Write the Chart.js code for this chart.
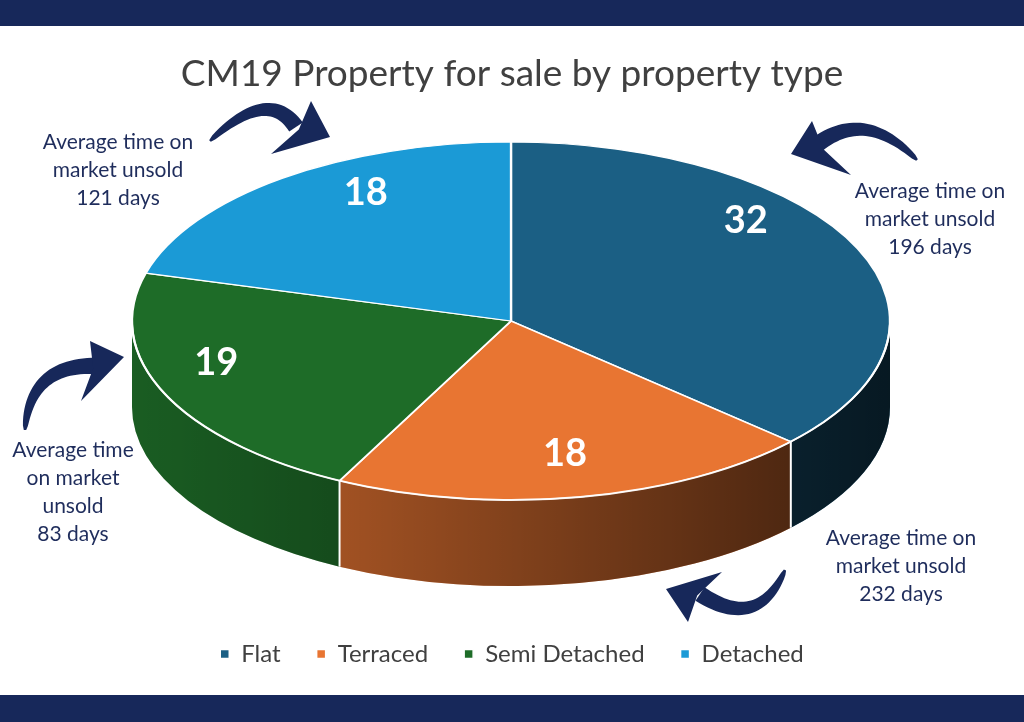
<!DOCTYPE html>
<html>
<head>
<meta charset="utf-8">
<script src="https://cdn.jsdelivr.net/npm/chart.js@4/dist/chart.umd.min.js"></script>
<style>
  html, body { margin: 0; padding: 0; background: #fff; }
  canvas { display: block; }
</style>
</head>
<body>
<canvas id="pieChart" width="1024" height="722"></canvas>
<script>
// data
const propertyTypes = ['Flat', 'Terraced', 'Semi Detached', 'Detached'];
const listings = [32, 18, 19, 18];
const avgDaysUnsold = [196, 232, 83, 121];

const sliceColors = ['#1b5f84', '#e87532', '#1e6c28', '#1b9ad6'];
const navy = '#17285a';
const FONT = 'Lato, "Open Sans", sans-serif';

// where the tilted pie sits on the page
const PIE = { cx: 511, cy: 321, rx: 379, ry: 179, depth: 86 };
// small nudges so the value labels sit like the perspective original
const labelNudge = [[-15, -48], [5, 6], [-45, -10], [20, -26]];

// callout boxes: which category, centre x, first line y, how the text wraps
const callouts = [
    { idx: 3, x: 118, y: 142, lines: d => ['Average time on', 'market unsold', d + ' days'] },
    { idx: 0, x: 930, y: 191, lines: d => ['Average time on', 'market unsold', d + ' days'] },
    { idx: 2, x: 73, y: 450, lines: d => ['Average time', 'on market', 'unsold', d + ' days'] },
    { idx: 1, x: 901, y: 538, lines: d => ['Average time on', 'market unsold', d + ' days'] }
];

// curved arrows: tail, control, shaft end, head tip, two barbs
const arrows = [
    { t: [210, 141], c: [268, 86], e: [296, 127], tip: [330, 137], b1: [311, 101], b2: [271, 154] },
    { t: [917, 160], c: [866, 108], e: [818, 144], tip: [791, 154], b1: [812, 121], b2: [851, 175] },
    { t: [25, 430], c: [30, 364], e: [96, 366], tip: [124, 357], b1: [90, 341], b2: [81, 401] },
    { t: [785, 570], c: [758, 632], e: [700, 594], tip: [666, 589], b1: [722, 572], b2: [688, 622] }
];

function drawArrow(ctx, a) {
    // tapered shaft along a quadratic curve
    const n = 30, left = [], right = [];
    for (let i = 0; i <= n; i++) {
        const s = i / n;
        const x = (1 - s) * (1 - s) * a.t[0] + 2 * (1 - s) * s * a.c[0] + s * s * a.e[0];
        const y = (1 - s) * (1 - s) * a.t[1] + 2 * (1 - s) * s * a.c[1] + s * s * a.e[1];
        const dx = 2 * (1 - s) * (a.c[0] - a.t[0]) + 2 * s * (a.e[0] - a.c[0]);
        const dy = 2 * (1 - s) * (a.c[1] - a.t[1]) + 2 * s * (a.e[1] - a.c[1]);
        const len = Math.hypot(dx, dy) || 1;
        const w = 1.2 + 7 * Math.pow(s, 0.5);
        left.push([x - dy / len * w, y + dx / len * w]);
        right.push([x + dy / len * w, y - dx / len * w]);
    }
    ctx.beginPath();
    ctx.moveTo(left[0][0], left[0][1]);
    left.forEach(p => ctx.lineTo(p[0], p[1]));
    right.reverse().forEach(p => ctx.lineTo(p[0], p[1]));
    ctx.closePath();
    ctx.fill();
    // head with a small notch
    const mx = (a.b1[0] + a.b2[0]) / 2, my = (a.b1[1] + a.b2[1]) / 2;
    const nx = mx + (a.tip[0] - mx) * 0.2, ny = my + (a.tip[1] - my) * 0.2;
    ctx.beginPath();
    ctx.moveTo(a.tip[0], a.tip[1]);
    ctx.lineTo(a.b1[0], a.b1[1]);
    ctx.lineTo(nx, ny);
    ctx.lineTo(a.b2[0], a.b2[1]);
    ctx.closePath();
    ctx.fill();
}

// squash the flat pie into the tilted ellipse
function toScreen(arc, x, y) {
    const k = arc.outerRadius;
    return [PIE.cx + (x - arc.x) * PIE.rx / k, PIE.cy + (y - arc.y) * PIE.ry / k];
}

const pie3d = {
    id: 'pie3d',
    beforeDraw(chart) {
        const ctx = chart.ctx;
        ctx.save();
        ctx.fillStyle = '#fff';
        ctx.fillRect(0, 0, chart.width, chart.height);
        ctx.fillStyle = navy;
        ctx.fillRect(0, 0, chart.width, 26);
        ctx.fillRect(0, 695, chart.width, chart.height - 695);
        ctx.restore();
    },
    beforeDatasetsDraw(chart) {
        const ctx = chart.ctx;
        const arcs = chart.getDatasetMeta(0).data;
        const shade = ctx.createLinearGradient(PIE.cx - PIE.rx, 0, PIE.cx + PIE.rx, 0);
        shade.addColorStop(0, 'rgba(0,0,0,0.14)');
        shade.addColorStop(1, 'rgba(0,0,0,0.74)');
        ctx.save();
        arcs.forEach((arc, i) => {
            const a = Math.max(arc.startAngle, 0);
            const b = Math.min(arc.endAngle, Math.PI);
            if (b <= a) return;
            ctx.beginPath();
            ctx.ellipse(PIE.cx, PIE.cy, PIE.rx, PIE.ry, 0, a, b, false);
            ctx.ellipse(PIE.cx, PIE.cy + PIE.depth, PIE.rx, PIE.ry, 0, b, a, true);
            ctx.closePath();
            ctx.fillStyle = sliceColors[i];
            ctx.fill();
            ctx.fillStyle = shade;
            ctx.fill();
        });
        // white seams on the side wall
        ctx.strokeStyle = '#fff';
        ctx.lineWidth = 2;
        arcs.forEach(arc => {
            const t = arc.startAngle;
            if (t > 0 && t < Math.PI) {
                const x = PIE.cx + PIE.rx * Math.cos(t), y = PIE.cy + PIE.ry * Math.sin(t);
                ctx.beginPath();
                ctx.moveTo(x, y);
                ctx.lineTo(x, y + PIE.depth);
                ctx.stroke();
            }
        });
        ctx.restore();
    },
    beforeDatasetDraw(chart) {
        const arc = chart.getDatasetMeta(0).data[0];
        const ctx = chart.ctx;
        const k = arc.outerRadius;
        ctx.save();
        ctx.translate(PIE.cx, PIE.cy);
        ctx.scale(PIE.rx / k, PIE.ry / k);
        ctx.translate(-arc.x, -arc.y);
    },
    afterDatasetDraw(chart) {
        const ctx = chart.ctx;
        ctx.restore();
        // rim highlight along the front edge
        ctx.save();
        ctx.strokeStyle = 'rgba(255,255,255,0.9)';
        ctx.lineWidth = 2;
        ctx.beginPath();
        ctx.ellipse(PIE.cx, PIE.cy, PIE.rx, PIE.ry, 0, 0.02, Math.PI - 0.02, false);
        ctx.stroke();
        // value labels
        const arcs = chart.getDatasetMeta(0).data;
        ctx.fillStyle = '#fff';
        ctx.font = 'bold 38px ' + FONT;
        ctx.textAlign = 'center';
        ctx.textBaseline = 'middle';
        arcs.forEach((arc, i) => {
            const mid = (arc.startAngle + arc.endAngle) / 2;
            const r = arc.outerRadius * 0.72;
            const p = toScreen(arc, arc.x + Math.cos(mid) * r, arc.y + Math.sin(mid) * r);
            ctx.fillText(String(listings[i]), p[0] + labelNudge[i][0], p[1] + labelNudge[i][1]);
        });
        ctx.restore();
    },
    afterDraw(chart) {
        const ctx = chart.ctx;
        ctx.save();
        ctx.fillStyle = navy;
        arrows.forEach(a => drawArrow(ctx, a));
        ctx.fillStyle = '#1f2d5c';
        ctx.font = '21px ' + FONT;
        ctx.textAlign = 'center';
        ctx.textBaseline = 'middle';
        callouts.forEach(c => {
            c.lines(avgDaysUnsold[c.idx]).forEach((txt, j) => ctx.fillText(txt, c.x, c.y + j * 28));
        });
        ctx.restore();
    }
};

new Chart(document.getElementById('pieChart').getContext('2d'), {
    type: 'pie',
    data: {
        labels: propertyTypes,
        datasets: [{
            data: listings,
            backgroundColor: sliceColors,
            borderColor: '#fff',
            borderWidth: 1.5,
            clip: false
        }]
    },
    options: {
        responsive: false,
        animation: false,
        events: [],
        layout: { padding: { top: 0, bottom: 46, left: 0, right: 0 } },
        plugins: {
            title: {
                display: true,
                text: 'CM19 Property for sale by property type',
                color: '#404040',
                font: { family: FONT, size: 37, weight: 'normal' },
                padding: { top: 52, bottom: 20 }
            },
            legend: {
                position: 'bottom',
                labels: {
                    color: '#404040',
                    font: { family: FONT, size: 24 },
                    boxWidth: 9,
                    boxHeight: 9,
                    padding: 36
                }
            },
            tooltip: { enabled: false }
        }
    },
    plugins: [pie3d]
});
</script>
</body>
</html>
